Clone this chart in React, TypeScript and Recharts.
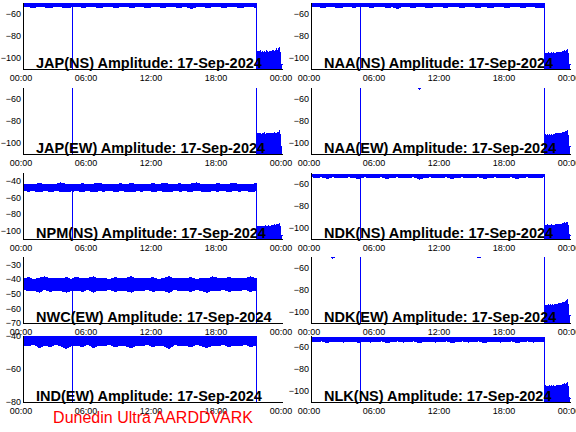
import React from 'react';
import { AreaChart, Area, XAxis, YAxis } from 'recharts';

// time of each sample, hours UT (shared by every panel)
const hours = [
  0, 0.5, 1, 1.5, 2, 2.5, 3, 3.5, 4, 4.54,
  4.55, 4.56,
  5, 5.5, 6, 6.5, 7, 7.5, 8, 8.5, 9, 9.5,
  10, 10.5, 11, 11.5, 12, 12.5, 13, 13.5, 14, 14.5,
  15, 15.5, 16, 16.5, 17, 17.5, 18, 18.5, 19, 19.5,
  20, 20.5, 21, 21.56,
  21.57,
  21.58, 21.7, 21.8, 21.9, 22, 22.1, 22.2, 22.3, 22.4, 22.5, 22.6, 22.7,
  22.8, 22.9, 23, 23.1, 23.2, 23.3, 23.4, 23.5, 23.6, 23.7, 23.8, 23.9,
  23.95,
];

const timeTicks = [0, 6, 12, 18, 24];
const timeLabels = ['00:00', '06:00', '12:00', '18:00', '00:00'];

const ticksStd = [-100, -80, -60];
const ticksNpm = [-100, -80, -60, -40];
const ticksNwc = [-70, -60, -50, -40, -30];
const ticksInd = [-80, -60, -40];

const dateLabel = '17-Sep-2024';

// amplitude envelopes, dB (hi = top of trace, lo = bottom of trace)
const japNsHi = [
  -50.5, -50.5, -50.6, -50.5, -50.5, -50.7, -50.5, -50.5, -50.6, -50.5,
  -50.5, -50.5,
  -50.5, -50.6, -50.5, -50.5, -50.7, -50.5, -50.5, -50.6, -50.5, -50.5,
  -50.5, -50.6, -50.5, -50.5, -50.7, -50.5, -50.5, -50.6, -50.5, -50.5,
  -50.5, -50.6, -50.5, -50.5, -50.7, -50.5, -50.5, -50.6, -50.5, -50.5,
  -50.6, -50.5, -50.5, -50.6,
  -50.5,
  -95.5, -94, -95, -93.5, -95, -94.5, -96, -94, -95, -93.5, -94.5, -95,
  -94, -95.5, -94, -93, -94.5, -93.5, -92, -94, -91.5, -90.5, -106, -105.5,
  -106.5,
];
const japNsLo = [
  -53, -53.5, -54, -53, -53.5, -54.5, -53, -53.5, -54, -53.5,
  -130, -53.5,
  -53, -54, -53.5, -53, -54.5, -53.5, -53, -54, -53.5, -53,
  -54, -53.5, -53, -54.5, -53, -53.5, -54, -53, -53.5, -54,
  -53, -55, -53.5, -53, -54, -53.5, -53, -54, -53.5, -53,
  -54.5, -53.5, -53, -54,
  -118,
  -118, -118, -118, -118, -118, -118, -118, -118, -118, -118, -118, -118,
  -118, -118, -118, -118, -118, -118, -118, -118, -118, -118, -118, -118,
  -118,
];

const naaNsHi = [
  -50.5, -50.6, -50.5, -50.5, -50.6, -50.5, -50.5, -50.7, -50.5, -50.5,
  -50.5, -50.5,
  -50.6, -50.5, -50.5, -50.6, -50.5, -50.5, -50.7, -50.5, -50.5, -50.6,
  -50.5, -50.5, -50.6, -50.5, -50.5, -50.7, -50.5, -50.5, -50.6, -50.5,
  -50.5, -50.6, -50.5, -50.5, -50.7, -50.5, -50.5, -50.6, -50.5, -50.5,
  -50.6, -50.5, -50.5, -50.5,
  -50.5,
  -96, -95.5, -96.5, -95, -96, -96.5, -95.5, -96, -95, -96, -95.5, -95,
  -96, -95, -94.5, -95, -94, -94.5, -93.5, -94, -93, -92.5, -106, -105.5,
  -106.5,
];
const naaNsLo = [
  -53.5, -53, -54, -53.5, -53, -54.5, -53.5, -53, -54, -53,
  -130, -53.5,
  -53, -54, -53.5, -53, -54, -53.5, -55, -53, -53.5, -54,
  -53, -53.5, -54.5, -53, -53.5, -54, -53, -53.5, -54, -53,
  -53.5, -54, -53, -54.5, -53.5, -53, -54, -53.5, -53, -54,
  -53.5, -53, -54.5, -53.5,
  -118,
  -118, -118, -118, -118, -118, -118, -118, -118, -118, -118, -118, -118,
  -118, -118, -118, -118, -118, -118, -118, -118, -118, -118, -118, -118,
  -118,
];

const japEwHi = [
  -45, -45.5, -45, -44.5, -45, -45.5, -45, -45, -44.5, -45,
  -45, -45,
  -45, -45.5, -45, -44.5, -45, -45, -45.5, -45, -44.5, -45,
  -45, -45.5, -45, -45, -44.5, -45, -45.5, -45, -45, -44.5,
  -45, -45, -45.5, -45, -44.5, -45, -45, -45.5, -45, -45,
  -44.5, -45, -45.5, -45,
  -45,
  -92, -91.5, -92.5, -91, -92, -91.5, -92, -91, -92.5, -91.5, -92, -91,
  -91.5, -92, -91, -91.5, -90.5, -91, -91.5, -90.5, -91, -88.5, -103, -103.5,
  -104,
];
const japEwLo = [
  -48, -48.5, -48, -47.5, -48, -48.5, -48, -48, -47.5, -48,
  -130, -48,
  -48, -48.5, -48, -47.5, -48, -48, -48.5, -48, -47.5, -48,
  -48, -48.5, -48, -48, -47.5, -48, -48.5, -48, -48, -47.5,
  -48, -48, -48.5, -48, -47.5, -48, -48, -48.5, -48, -48,
  -47.5, -48, -48.5, -48,
  -118,
  -118, -118, -118, -118, -118, -118, -118, -118, -118, -118, -118, -118,
  -118, -118, -118, -118, -118, -118, -118, -118, -118, -118, -118, -118,
  -118,
];

const naaEwHi = [
  -44, -44.5, -44, -43.5, -44, -44.5, -44, -44, -43.5, -44,
  -44, -44,
  -44, -44.5, -44, -43.5, -44, -44, -44.5, -44, -43.5, -44,
  -44, -44.5, -44, -44, -43.5, -44, -44.5, -44, -44, -43.5,
  -44, -44, -44.5, -44, -43.5, -44, -44, -44.5, -44, -44,
  -43.5, -44, -44.5, -44,
  -44,
  -92, -93, -92.5, -93.5, -92, -93, -92.5, -93, -92, -92.5, -91.5, -92,
  -91.5, -92, -91, -91.5, -90.5, -91, -90.5, -90, -89.5, -89, -103, -103,
  -104,
];
const naaEwLo = [
  -47.5, -48, -47.5, -47, -47.5, -48, -47.5, -47.5, -47, -47.5,
  -130, -47.5,
  -47.5, -48, -47.5, -47, -47.5, -47.5, -48, -47.5, -47, -47.5,
  -51, -48, -47.5, -47.5, -47, -47.5, -48, -47.5, -47.5, -47,
  -47.5, -47.5, -48, -47.5, -47, -47.5, -47.5, -48, -47.5, -47.5,
  -47, -47.5, -48, -47.5,
  -118,
  -118, -118, -118, -118, -118, -118, -118, -118, -118, -118, -118, -118,
  -118, -118, -118, -118, -118, -118, -118, -118, -118, -118, -118, -118,
  -118,
];

const npmNsHi = [
  -44, -43.5, -44.5, -42.5, -44, -43.5, -44, -42, -44, -43.5,
  -44, -43.5,
  -44, -43, -44.5, -43.5, -42.5, -44, -43.5, -44, -43, -44.5,
  -42.5, -44, -43.5, -44, -43, -44, -42.5, -43.5, -44, -43,
  -44.5, -43.5, -42, -44, -43.5, -44, -43, -44, -43.5, -42.5,
  -44, -43.5, -44, -43,
  -44,
  -95.5, -95, -96, -94.5, -95, -95.5, -94.5, -95, -94, -95, -94.5, -94,
  -95, -94, -93.5, -94, -93, -93.5, -92.5, -93, -92, -91, -106, -105.5,
  -106,
];
const npmNsLo = [
  -51, -52, -51.5, -53, -51, -52.5, -51.5, -52, -53, -51.5,
  -130, -52,
  -51.5, -52.5, -51, -53, -51.5, -52, -51, -52.5, -51.5, -52,
  -53, -51.5, -52, -51, -52.5, -51.5, -52, -53, -51, -52,
  -51.5, -52.5, -51, -52, -53, -51.5, -52, -51, -52.5, -51.5,
  -52, -51, -52.5, -51.5,
  -118,
  -118, -118, -118, -118, -118, -118, -118, -118, -118, -118, -118, -118,
  -118, -118, -118, -118, -118, -118, -118, -118, -118, -118, -118, -118,
  -118,
];

const ndkNsHi = [
  -51, -51, -51.2, -51, -51, -51.3, -51, -51, -51.2, -51,
  -51, -51,
  -51, -51.2, -51, -51, -51.3, -51, -51, -51.2, -51, -51,
  -51, -51.2, -51, -51, -51.3, -51, -51, -51.2, -51, -51,
  -51, -51.2, -51, -51, -51.3, -51, -51, -51.2, -51, -51,
  -51.2, -51, -51, -51.2,
  -51,
  -97.5, -98, -97, -98.5, -97.5, -98, -97, -98, -97.5, -98, -97, -97.5,
  -96.5, -97, -96.5, -97, -96, -96.5, -95.5, -96, -95, -95, -106, -106,
  -107,
];
const ndkNsLo = [
  -53.5, -54, -53.5, -55, -53.5, -54, -54.5, -53.5, -54, -55.5,
  -130, -54,
  -53.5, -54.5, -54, -53.5, -55, -54, -53.5, -54.5, -54, -53.5,
  -55.5, -54, -53.5, -54.5, -54, -53.5, -55, -54, -53.5, -54.5,
  -54, -53.5, -55, -54, -53.5, -54.5, -54, -53.5, -55, -54,
  -53.5, -54.5, -54, -53.5,
  -118,
  -118, -118, -118, -118, -118, -118, -118, -118, -118, -118, -118, -118,
  -118, -118, -118, -118, -118, -118, -118, -118, -118, -118, -118, -118,
  -118,
];

const nwcEwHi = [
  -40, -39, -40.5, -39.5, -38.5, -40, -39.5, -40, -39, -40.5,
  -40, -39.5,
  -39, -40, -39.5, -38.5, -40, -39.5, -40.5, -39, -40, -39.5,
  -38.5, -40, -39.5, -40, -39, -40.5, -39.5, -38.5, -40, -39.5,
  -40, -39, -40.5, -39.5, -40, -38.5, -39.5, -40, -39, -40,
  -39.5, -40, -38.5, -40,
  -40,
  -96, -95, -96.5, -95.5, -96, -95, -96.5, -95.5, -96, -95, -95.5, -96,
  -95, -95.5, -94.5, -95, -94, -94.5, -93.5, -94, -93, -92.5, -106, -106,
  -107,
];
const nwcEwLo = [
  -47, -48, -47.5, -49, -47, -48.5, -47.5, -48, -49, -47.5,
  -130, -48,
  -47.5, -48.5, -47, -49, -47.5, -48, -47, -48.5, -47.5, -48,
  -49, -47.5, -48, -47, -48.5, -47.5, -48, -49, -47, -48,
  -47.5, -48.5, -47, -48, -49, -47.5, -48, -47, -48.5, -47.5,
  -48, -47, -48.5, -47.5,
  -118,
  -118, -118, -118, -118, -118, -118, -118, -118, -118, -118, -118, -118,
  -118, -118, -118, -118, -118, -118, -118, -118, -118, -118, -118, -118,
  -118,
];

const ndkEwHi = [
  -44, -44.5, -44, -43.5, -44, -44.5, -44, -44, -43.5, -44,
  -44, -44,
  -44, -44.5, -44, -43.5, -44, -44, -44.5, -44, -43.5, -44,
  -44, -44.5, -44, -44, -43.5, -44, -44.5, -44, -44, -43.5,
  -44, -44, -44.5, -44, -43.5, -44, -44, -44.5, -44, -44,
  -43.5, -44, -44.5, -44,
  -44,
  -94, -93.5, -94.5, -93, -94, -93.5, -94, -93, -94, -93.5, -93, -93.5,
  -92.5, -93, -92, -92.5, -91.5, -92, -91, -90.5, -90, -89, -103, -103,
  -104,
];
const ndkEwLo = [
  -47.5, -48, -47.5, -47, -51, -48, -47.5, -47.5, -47, -47.5,
  -130, -47.5,
  -47.5, -48, -47.5, -47, -47.5, -47.5, -48, -47.5, -47, -47.5,
  -47.5, -48, -47.5, -47.5, -47, -47.5, -48, -47.5, -47.5, -47,
  -47.5, -51, -48, -47.5, -47, -47.5, -47.5, -48, -47.5, -47.5,
  -47, -47.5, -48, -47.5,
  -118,
  -118, -118, -118, -118, -118, -118, -118, -118, -118, -118, -118, -118,
  -118, -118, -118, -118, -118, -118, -118, -118, -118, -118, -118, -118,
  -118,
];

const indEwHi = [
  -38, -37.5, -38.5, -38, -37, -38, -38.5, -37.5, -38, -38,
  -38, -38,
  -37.5, -38, -38.5, -37, -38, -37.5, -38, -38.5, -37.5, -38,
  -38, -37, -38.5, -38, -37.5, -38, -38, -37.5, -38.5, -38,
  -37.5, -38, -38, -38.5, -37, -38, -37.5, -38, -38.5, -38,
  -38, -37.5, -38, -38,
  -38,
  -96, -95, -96.5, -95.5, -96, -95, -96.5, -95.5, -96, -95, -95.5, -96,
  -95, -95.5, -94.5, -95, -94, -94.5, -93.5, -94, -93, -92.5, -106, -106,
  -107,
];
const indEwLo = [
  -45.5, -46, -45, -47, -45.5, -46.5, -45, -46, -47.5, -45.5,
  -130, -46,
  -45.5, -46.5, -45, -47, -45.5, -46, -45, -46.5, -45.5, -46,
  -47, -45.5, -46, -45, -46.5, -45.5, -46, -47.5, -45, -46,
  -45.5, -46.5, -45, -46, -47, -45.5, -46, -45, -46.5, -45.5,
  -46, -45, -46.5, -45.5,
  -118,
  -118, -118, -118, -118, -118, -118, -118, -118, -118, -118, -118, -118,
  -118, -118, -118, -118, -118, -118, -118, -118, -118, -118, -118, -118,
  -118,
];

const nlkNsHi = [
  -51, -51, -51.2, -51, -51, -51.3, -51, -51, -51.2, -51,
  -51, -51,
  -51, -51.2, -51, -51, -51.3, -51, -51, -51.2, -51, -51,
  -51, -51.2, -51, -51, -51.3, -51, -51, -51.2, -51, -51,
  -51, -51.2, -51, -51, -51.3, -51, -51, -51.2, -51, -51,
  -51.2, -51, -51, -51.2,
  -51,
  -95, -96, -95.5, -97, -95, -96, -95.5, -96.5, -95, -96, -95.5, -95,
  -96, -95, -94.5, -95, -94, -94.5, -93.5, -94, -93, -92.5, -106, -106,
  -107,
];
const nlkNsLo = [
  -54.5, -55, -54.5, -56, -54.5, -55, -55.5, -54.5, -55, -56,
  -130, -55,
  -54.5, -55.5, -55, -54.5, -56, -55, -54.5, -55.5, -55, -54.5,
  -56, -55, -54.5, -55.5, -55, -54.5, -56, -55, -54.5, -55.5,
  -55, -54.5, -56, -55, -54.5, -55.5, -55, -54.5, -56, -55,
  -54.5, -55.5, -55, -54.5,
  -118,
  -118, -118, -118, -118, -118, -118, -118, -118, -118, -118, -118, -118,
  -118, -118, -118, -118, -118, -118, -118, -118, -118, -118, -118, -118,
  -118,
];

type PanelDef = {
  name: string;
  hi: number[];
  lo: number[];
  domain: [number, number];
  ticks: number[];
};

const leftPanels: PanelDef[] = [
  { name: 'JAP(NS)', hi: japNsHi, lo: japNsLo, domain: [-110, -50], ticks: ticksStd },
  { name: 'JAP(EW)', hi: japEwHi, lo: japEwLo, domain: [-110, -50], ticks: ticksStd },
  { name: 'NPM(NS)', hi: npmNsHi, lo: npmNsLo, domain: [-110, -30], ticks: ticksNpm },
  { name: 'NWC(EW)', hi: nwcEwHi, lo: nwcEwLo, domain: [-70, -25], ticks: ticksNwc },
  { name: 'IND(EW)', hi: indEwHi, lo: indEwLo, domain: [-80, -40], ticks: ticksInd },
];
const rightPanels: PanelDef[] = [
  { name: 'NAA(NS)', hi: naaNsHi, lo: naaNsLo, domain: [-110, -50], ticks: ticksStd },
  { name: 'NAA(EW)', hi: naaEwHi, lo: naaEwLo, domain: [-110, -50], ticks: ticksStd },
  { name: 'NDK(NS)', hi: ndkNsHi, lo: ndkNsLo, domain: [-110, -50], ticks: ticksStd },
  { name: 'NDK(EW)', hi: ndkEwHi, lo: ndkEwLo, domain: [-110, -50], ticks: ticksStd },
  { name: 'NLK(NS)', hi: nlkNsHi, lo: nlkNsLo, domain: [-110, -50], ticks: ticksStd },
];

// layout
const rowTops = [3, 88, 173, 257, 336];
const colLefts = [0, 288];
const M_TOP = 12;
const PLOT_H = 66;
const AXIS_H = 20;
const CHART_W = 288;
const CHART_H = M_TOP + PLOT_H + AXIS_H;
const Y_AXIS_W = 23;
const M_RIGHT = 5;

const FONT = '"Liberation Sans", Arial, Helvetica, sans-serif';
const BLUE = '#0000ff';

const fmtLevel = (v: number) => (v < 0 ? '\u2212' + Math.abs(v) : String(v));

function TimeTick(props: any) {
  const { x, y, payload } = props;
  const label = timeLabels[timeTicks.indexOf(payload.value)];
  return (
    <text x={x - 2} y={y + 12} textAnchor="middle" fontSize={9} fontFamily={FONT} fill="#000">
      {label}
    </text>
  );
}

function LevelTick(props: any) {
  const { x, y, payload } = props;
  return (
    <text x={x} y={y + 3.2} textAnchor="end" fontSize={9} fontFamily={FONT} fill="#000">
      {fmtLevel(payload.value)}
    </text>
  );
}

function Panel({ def, left, top }: { def: PanelDef; left: number; top: number }) {
  const data = hours.map((h, i) => ({ h, band: [def.lo[i], def.hi[i]] }));
  return (
    <div style={{ position: 'absolute', left, top: top - M_TOP, width: CHART_W, height: CHART_H }}>
      <AreaChart
        width={CHART_W}
        height={CHART_H}
        data={data}
        margin={{ top: M_TOP, right: M_RIGHT, bottom: 0, left: 0 }}
      >
        <Area
          dataKey="band"
          type="linear"
          stroke={BLUE}
          strokeWidth={1}
          fill={BLUE}
          fillOpacity={1}
          dot={false}
          activeDot={false}
          isAnimationActive={false}
        />
        <XAxis
          dataKey="h"
          type="number"
          domain={[0, 24]}
          ticks={timeTicks}
          interval={0}
          allowDataOverflow
          height={AXIS_H}
          tickSize={0}
          tickMargin={0}
          tickLine={false}
          axisLine={{ stroke: '#000' }}
          tick={TimeTick}
        />
        <XAxis
          xAxisId="top"
          orientation="top"
          type="number"
          domain={[0, 24]}
          ticks={timeTicks}
          interval={0}
          allowDataOverflow
          height={0}
          mirror
          tickSize={3}
          tick={false}
          tickLine={{ stroke: '#000' }}
          axisLine={{ stroke: '#000' }}
        />
        <YAxis
          type="number"
          domain={def.domain}
          ticks={def.ticks}
          interval={0}
          allowDataOverflow
          width={Y_AXIS_W}
          tickSize={0}
          tickMargin={2}
          tickLine={false}
          axisLine={{ stroke: '#000' }}
          tick={LevelTick}
        />
        <YAxis
          yAxisId="right"
          orientation="right"
          type="number"
          domain={def.domain}
          ticks={def.ticks}
          interval={0}
          allowDataOverflow
          width={0}
          mirror
          tickSize={4}
          tick={false}
          tickLine={{ stroke: '#000' }}
          axisLine={{ stroke: '#000' }}
        />
      </AreaChart>
      <svg
        width={CHART_W}
        height={CHART_H}
        style={{ position: 'absolute', left: 0, top: 0, overflow: 'visible', pointerEvents: 'none' }}
      >
        <text
          x={Y_AXIS_W + 13}
          y={M_TOP + PLOT_H - 1.5}
          fontSize={14.5}
          fontWeight="bold"
          fontFamily={FONT}
          fill="#000"
        >
          {`${def.name} Amplitude: ${dateLabel}`}
        </text>
      </svg>
    </div>
  );
}

export default function App() {
  return (
    <div
      style={{
        position: 'absolute',
        left: 0,
        top: 0,
        width: 576,
        height: 432,
        background: '#fff',
        overflow: 'hidden',
      }}
    >
      <style>{`
        .recharts-surface { overflow: visible; }
        .recharts-surface path, .recharts-surface line { shape-rendering: crispEdges; }
      `}</style>
      {rowTops.map((top, r) => (
        <React.Fragment key={r}>
          <Panel def={leftPanels[r]} left={colLefts[0]} top={top} />
          <Panel def={rightPanels[r]} left={colLefts[1]} top={top} />
        </React.Fragment>
      ))}
      <svg
        width={576}
        height={432}
        style={{ position: 'absolute', left: 0, top: 0, pointerEvents: 'none' }}
      >
        <text x={153} y={422.5} textAnchor="middle" fontSize={16} fontFamily={FONT} fill="#ff0000">
          Dunedin Ultra AARDDVARK
        </text>
      </svg>
    </div>
  );
}
